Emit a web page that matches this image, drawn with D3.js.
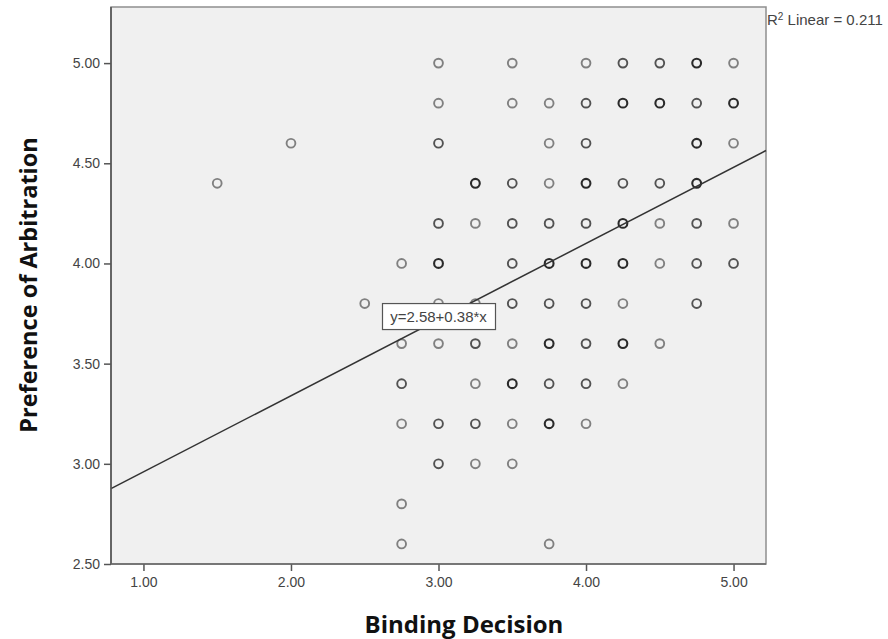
<!DOCTYPE html>
<html>
<head>
<meta charset="utf-8">
<script src="https://cdn.jsdelivr.net/npm/d3@7"></script>
<style>
  body { margin: 0; background: #fff; }
  text { font-family: "Liberation Sans", Arial, sans-serif; }
</style>
</head>
<body>
<svg id="chart" width="888" height="639"></svg>
<script>
// y levels of the scatter rows and, for each row, [binding decision, overlapping cases]
var yRows = [5.0, 4.8, 4.6, 4.4, 4.2, 4.0, 3.8, 3.6, 3.4, 3.2, 3.0, 2.8, 2.6];
var rowPoints = [
    [[3.0,1],[3.5,1],[4.0,1],[4.25,2],[4.5,2],[4.75,3],[5.0,1]],
    [[3.0,1],[3.5,1],[3.75,1],[4.0,2],[4.25,3],[4.5,3],[4.75,2],[5.0,3]],
    [[2.0,1],[3.0,2],[3.75,1],[4.0,2],[4.75,3],[5.0,1]],
    [[1.5,1],[3.25,3],[3.5,2],[3.75,1],[4.0,3],[4.25,2],[4.5,2],[4.75,3]],
    [[3.0,2],[3.25,1],[3.5,2],[3.75,2],[4.0,2],[4.25,3],[4.5,1],[4.75,2],[5.0,1]],
    [[2.75,1],[3.0,3],[3.5,2],[3.75,3],[4.0,3],[4.25,3],[4.5,1],[4.75,2],[5.0,2]],
    [[2.5,1],[3.0,1],[3.25,1],[3.5,2],[3.75,2],[4.0,2],[4.25,1],[4.75,2]],
    [[2.75,1],[3.0,1],[3.25,2],[3.5,1],[3.75,3],[4.0,2],[4.25,3],[4.5,1]],
    [[2.75,2],[3.25,1],[3.5,3],[3.75,2],[4.0,2],[4.25,1]],
    [[2.75,1],[3.0,2],[3.25,2],[3.5,1],[3.75,3],[4.0,1]],
    [[3.0,2],[3.25,1],[3.5,1]],
    [[2.75,1]],
    [[2.75,1],[3.75,1]]
];
var xTicks = [1.0, 2.0, 3.0, 4.0, 5.0];
var yTicks = [2.5, 3.0, 3.5, 4.0, 4.5, 5.0];
var fitIntercept = 2.58, fitSlope = 0.38, rSquare = 0.211;

(function() {
    'use strict';

    var margin = {left: 111, top: 7},
        width = 655,
        height = 557;

    var svg = d3.select('#chart');
    var g = svg.append('g').attr('transform', 'translate(' + margin.left + ',' + margin.top + ')');

    var x = d3.scaleLinear().domain([0.78, 5.22]).range([0, width]),
        y = d3.scaleLinear().domain([2.5, 5.28]).range([height, 0]);

    var shade = {1: '#808080', 2: '#525252', 3: '#2a2a2a'};

    // plot background and frame
    g.append('rect')
        .attr('width', width).attr('height', height)
        .attr('fill', '#f0f0f0')
        .attr('stroke', '#8f8f8f').attr('stroke-width', 1.5);

    var points = [];
    yRows.forEach(function(yv, r) {
        rowPoints[r].forEach(function(p) {
            points.push({x: p[0], y: yv, n: p[1]});
        });
    });

    g.selectAll('circle.pt').data(points).enter().append('circle')
        .attr('class', 'pt')
        .attr('cx', function(d) { return x(d.x); })
        .attr('cy', function(d) { return y(d.y); })
        .attr('r', 4.4)
        .attr('fill', 'none')
        .attr('stroke', function(d) { return shade[d.n]; })
        .attr('stroke-width', function(d) { return d.n > 2 ? 2.1 : 1.9; });

    // fit line across the x range
    var xd = x.domain();
    g.append('line')
        .attr('x1', x(xd[0])).attr('y1', y(fitIntercept + fitSlope * xd[0]))
        .attr('x2', x(xd[1])).attr('y2', y(fitIntercept + fitSlope * xd[1]))
        .attr('stroke', '#333').attr('stroke-width', 1.5);

    // axes
    var xAxis = d3.axisBottom(x).tickValues(xTicks).tickSize(7).tickFormat(d3.format('.2f'));
    var yAxis = d3.axisLeft(y).tickValues(yTicks).tickSize(7).tickFormat(d3.format('.2f'));

    var gx = g.append('g').attr('transform', 'translate(0,' + height + ')').call(xAxis);
    var gy = g.append('g').call(yAxis);
    [gx, gy].forEach(function(a) {
        a.select('.domain').remove();
        a.selectAll('line').attr('stroke', '#555').attr('stroke-width', 1.5);
        a.selectAll('text').attr('fill', '#444').style('font-size', '14px');
    });
    gx.selectAll('text').attr('dy', '0.95em');
    gy.selectAll('text').attr('x', -11);

    g.append('line').attr('x1', 0).attr('x2', 0).attr('y1', 0).attr('y2', height)
        .attr('stroke', '#555').attr('stroke-width', 1.6);
    g.append('line').attr('x1', 0).attr('x2', width).attr('y1', height).attr('y2', height)
        .attr('stroke', '#666').attr('stroke-width', 1.6);

    // equation label on the line
    var eq = g.append('g').attr('transform', 'translate(' + x(3.0) + ',' + y(3.735) + ')');
    eq.append('rect')
        .attr('x', -56).attr('y', -13).attr('width', 113).attr('height', 26)
        .attr('fill', '#fff').attr('stroke', '#555').attr('stroke-width', 1.2);
    eq.append('text')
        .attr('text-anchor', 'middle').attr('dy', '0.36em')
        .attr('fill', '#444').style('font-size', '15px')
        .text('y=' + fitIntercept.toFixed(2) + '+' + fitSlope.toFixed(2) + '*x');

    // R squared note
    var r2 = svg.append('text')
        .attr('x', margin.left + width + 1).attr('y', 25)
        .attr('fill', '#444').style('font-size', '15px');
    r2.append('tspan').text('R');
    r2.append('tspan').attr('dy', -5).style('font-size', '10px').text('2');
    r2.append('tspan').attr('dy', 5).text(' Linear = ' + rSquare.toFixed(3));

    // axis titles
    svg.append('text')
        .attr('x', 464).attr('y', 633)
        .attr('text-anchor', 'middle')
        .style('font-family', '"Open Sans", sans-serif').style('font-weight', 'bold').style('font-size', '24px')
        .attr('fill', '#111')
        .text('Binding Decision');

    svg.append('text')
        .attr('transform', 'translate(37,' + 285 + ') rotate(-90)')
        .attr('text-anchor', 'middle')
        .style('font-family', '"Open Sans", sans-serif').style('font-weight', 'bold').style('font-size', '23.5px')
        .attr('fill', '#111')
        .text('Preference of Arbitration');
})();
</script>
</body>
</html>
